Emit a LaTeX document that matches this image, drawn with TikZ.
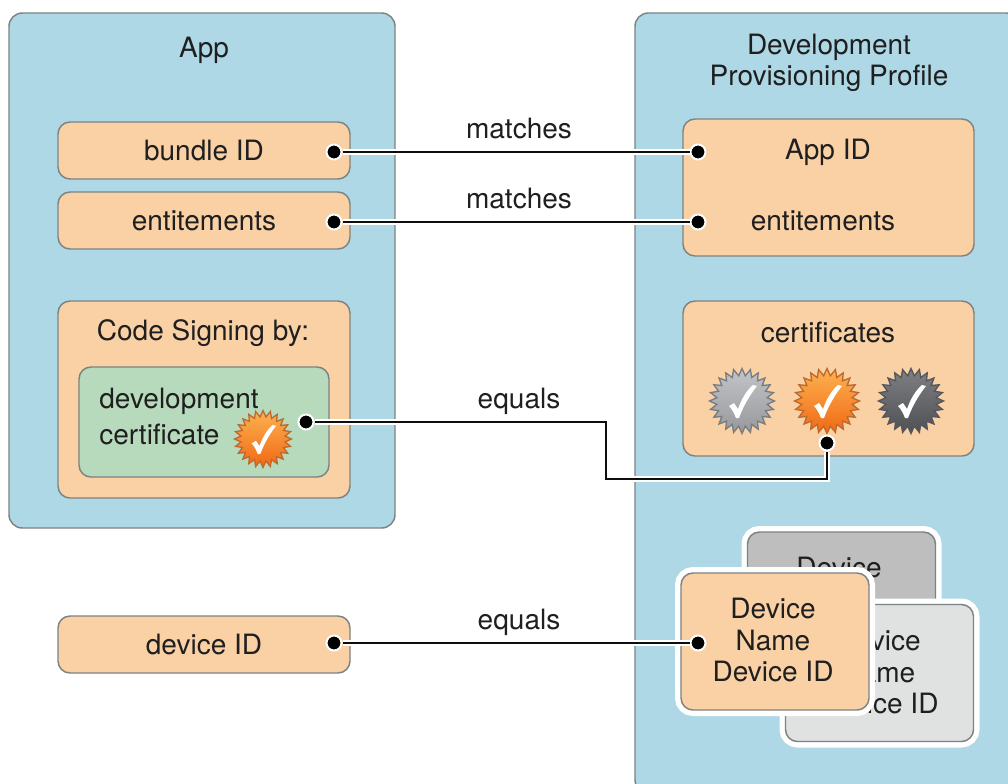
\documentclass[tikz,border=0pt]{standalone}
\usepackage{fontspec}
\setmainfont{TeX Gyre Heros}
\usetikzlibrary{shapes.geometric}
\definecolor{panelblue}{RGB}{174,216,230}
\definecolor{boxorange}{RGB}{250,208,165}
\definecolor{boxgreen}{RGB}{184,218,188}
\definecolor{edgegray}{RGB}{125,130,130}
\definecolor{cardgray}{RGB}{190,190,190}
\definecolor{cardlight}{RGB}{224,226,226}
\definecolor{sealOtop}{RGB}{253,178,80}
\definecolor{sealObot}{RGB}{240,104,20}
\definecolor{sealOedge}{RGB}{190,105,45}
\definecolor{sealGtop}{RGB}{195,196,200}
\definecolor{sealGbot}{RGB}{150,152,156}
\definecolor{sealGedge}{RGB}{120,125,130}
\definecolor{sealDtop}{RGB}{128,128,132}
\definecolor{sealDbot}{RGB}{78,80,84}
\definecolor{sealDedge}{RGB}{85,87,92}
\def\px{0.75pt}
\tikzset{
  x=0.75pt,y=-0.75pt,
  every node/.style={font=\fontsize{21}{23.6}\selectfont,text=black!88},
  panel/.style={draw=edgegray,line width=1.1pt,fill=panelblue,rounded corners=10pt,inner sep=0pt},
  box/.style={draw=edgegray,line width=1.1pt,fill=boxorange,rounded corners=9pt,inner sep=0pt,align=center},
  greenbox/.style={box,fill=boxgreen},
  card/.style={box,preaction={draw=white,line width=9pt},minimum width=188*\px,minimum height=137*\px},
  label/.style={inner sep=0pt,align=center},
  dot/.style={circle,fill=black,draw=white,line width=1.5pt,minimum size=15*\px,inner sep=0pt},
  wire/.style={draw=black!95,line width=2.2pt,preaction={draw=white,line width=4.8pt}},
  pics/seal/.style n args={3}{code={
    \node[star,star points=24,star point ratio=1.28,minimum size=65*\px,inner sep=0pt,
      draw=#3,line width=1pt,top color=#1,bottom color=#2] (-burst) at (0,0) {};
    \fill[white] (-13,5) -- (-8,2) -- (-4,8) .. controls (0,-3) and (5,-11) .. (11,-16)
      -- (15,-15) .. controls (7,-5) and (1,6) .. (-3,17) -- (-6,17) .. controls (-8,12) and (-10,8) .. (-13,5) -- cycle;
  }},
}
\begin{document}
\begin{tikzpicture}
\path[use as bounding box] (0,0) rectangle (1008,783);
\clip (0,0) rectangle (1008,783);
\fill[white] (0,0) rectangle (1008,783);
% panels
\node[panel,minimum width=386*\px,minimum height=515*\px] (app) at (202,270.5) {};
\node[panel,minimum width=385*\px,minimum height=780*\px] (profile) at (827.5,403) {};
\node[label] (appT) at (204,50) {App};
\node[label] (profT) at (829,63) {Development\\Provisioning Profile};
% left boxes
\node[box,minimum width=292*\px,minimum height=57*\px] (bundle) at (204,150.5) {bundle ID};
\node[box,minimum width=292*\px,minimum height=57*\px] (ent) at (204,220.5) {entitements};
\node[box,minimum width=292*\px,minimum height=197*\px] (code) at (204,399.5) {};
\node[label] (codeT) at (203,333) {Code Signing by:};
\node[greenbox,minimum width=250*\px,minimum height=110*\px] (green) at (204,422) {};
\node[label,anchor=west] (devT) at (99,401) {development};
\node[label,anchor=west] (certT) at (99,434) {certificate};
\pic[scale=.875,transform shape] (sealL) at (263,439) {seal={sealOtop}{sealObot}{sealOedge}};
\node[box,minimum width=292*\px,minimum height=57*\px] (devid) at (204,644.5) {device ID};
% right boxes
\node[box,minimum width=291*\px,minimum height=137*\px] (appid) at (828.5,187.5) {};
\node[label] (appidT) at (828,152) {App ID};
\node[label] (entT) at (823,221) {entitements};
\node[box,minimum width=291*\px,minimum height=155*\px] (certs) at (828.5,378.5) {};
\node[label] (certsT) at (828,332) {certificates};
\pic (sealA) at (742,401) {seal={sealGtop}{sealGbot}{sealGedge}};
\pic (sealB) at (827,401) {seal={sealOtop}{sealObot}{sealOedge}};
\pic (sealC) at (911,401) {seal={sealDtop}{sealDbot}{sealDedge}};
% device cards
\node[card,fill=cardgray] (cardB) at (841.5,600.5) {};
\node[label] (cardBT) at (839,599) {Device\\Name\\Device ID};
\node[card,fill=cardlight] (cardC) at (879.5,673) {};
\node[label] (cardCT) at (878,672) {Device\\Name\\Device ID};
\node[card] (cardA) at (775,641.5) {};
\node[label] (cardAT) at (773,640) {Device\\Name\\Device ID};
% connector labels
\node[label] (m1) at (519,128) {matches};
\node[label] (m2) at (519,198) {matches};
\node[label] (e1) at (519,401) {equals};
\node[label] (e2) at (519,622) {equals};
% dots
\node[dot] (d1) at (334,152) {};
\node[dot] (d2) at (698,152) {};
\node[dot] (d3) at (334,222) {};
\node[dot] (d4) at (698,222) {};
\node[dot] (d5) at (306,422) {};
\node[dot] (d6) at (827,443) {};
\node[dot] (d7) at (334,643) {};
\node[dot] (d8) at (698,643) {};
\coordinate (k1) at (606,422);
\coordinate (k2) at (606,479);
\coordinate (k3) at (827,479);
% connectors
\draw[wire] (d1) -- (d2);
\draw[wire] (d3) -- (d4);
\draw[wire] (d5) -- (k1) -- (k2) -- (k3) -- (d6);
\draw[wire] (d7) -- (d8);
\end{tikzpicture}
\end{document}
